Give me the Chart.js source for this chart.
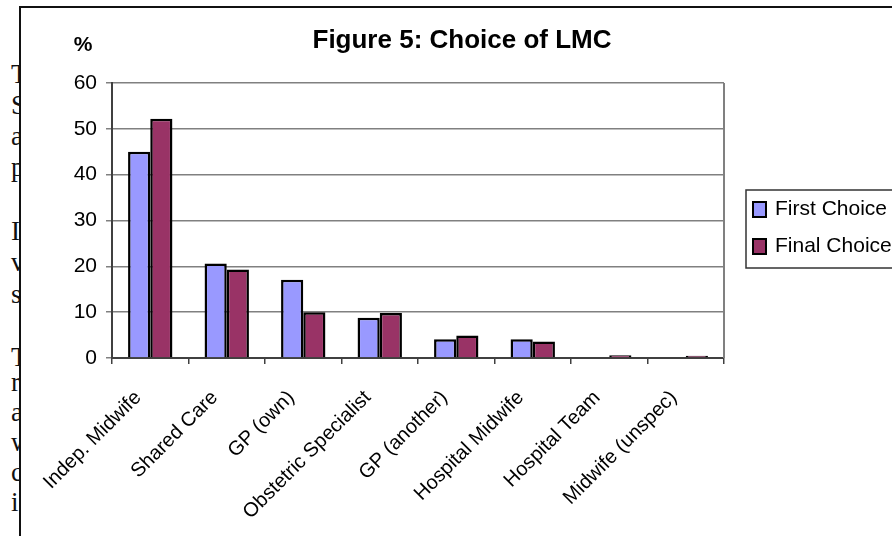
<!DOCTYPE html>
<html>
<head>
<meta charset="utf-8">
<script src="https://cdn.jsdelivr.net/npm/chart.js@4.4.0/dist/chart.umd.min.js"></script>
<style>
  body { margin: 0; width: 892px; height: 536px; overflow: hidden; background: #fff; position: relative; }
  /* page text behind the chart, cut by the chart box */
  .page { position: absolute; left: 0; top: 0; width: 20px; height: 536px; overflow: hidden;
          font-family: "Liberation Serif", "Times New Roman", serif; font-size: 27px; color: #111; }
  .page span { position: absolute; left: 11px; line-height: 1; }
  .box { position: absolute; left: 19px; top: 6px; width: 900px; height: 560px;
         border-left: 2px solid #111; border-top: 2px solid #111; background: #fff; }
  .box canvas { position: absolute; left: 0; top: 0; }
</style>
</head>
<body>
<div class="page">
  <span style="top:61px">T</span>
  <span style="top:92px">S</span>
  <span style="top:123px">a</span>
  <span style="top:154px">p</span>
  <span style="top:218px">I</span>
  <span style="top:249px">v</span>
  <span style="top:281px">s</span>
  <span style="top:344px">T</span>
  <span style="top:369px">r</span>
  <span style="top:399px">a</span>
  <span style="top:429px">w</span>
  <span style="top:459px">c</span>
  <span style="top:489px">i</span>
</div>
<div class="box">
  <canvas id="myChart" width="890" height="528"></canvas>
</div>
<script>
//---------------------------------- Data --------------------------------------------//
const categories = ["Indep. Midwife", "Shared Care", "GP (own)", "Obstetric Specialist",
  "GP (another)", "Hospital Midwife", "Hospital Team", "Midwife (unspec)"];
const firstChoice = [45, 20.6, 17.1, 8.8, 4.1, 4.1, 0, 0];
const finalChoice = [52.2, 19.3, 10, 9.8, 4.9, 3.6, 0.6, 0.5];
const seriesNames = ["First Choice", "Final Choice"];
const yTicks = [0, 10, 20, 30, 40, 50, 60];
const chartTitle = "Figure 5: Choice of LMC";
const unitLabel = "%";

const font = "'Liberation Sans', Arial, sans-serif";

//------------------- Title, % label, right border and legend box --------------------//
const extras = {
  id: "extras",
  afterDraw(chart) {
    const ctx = chart.ctx;
    const area = chart.chartArea;
    ctx.save();

    // right border of the plot
    ctx.strokeStyle = "#808080";
    ctx.lineWidth = 2;
    ctx.beginPath();
    ctx.moveTo(area.right, area.top);
    ctx.lineTo(area.right, area.bottom);
    ctx.stroke();

    // title and unit
    ctx.fillStyle = "#000";
    ctx.textAlign = "center";
    ctx.textBaseline = "middle";
    ctx.font = "bold 26px " + font;
    ctx.fillText(chartTitle, 441, 33);
    ctx.font = "bold 21px " + font;
    ctx.fillText(unitLabel, 62, 37);

    // legend
    ctx.strokeStyle = "#333";
    ctx.lineWidth = 1.5;
    ctx.strokeRect(725, 182, 175, 78);
    ctx.font = "21px " + font;
    ctx.textAlign = "left";
    chart.data.datasets.forEach((ds, i) => {
      const y = 194 + i * 37;
      ctx.fillStyle = ds.backgroundColor;
      ctx.fillRect(732, y, 13, 15);
      ctx.strokeStyle = "#000";
      ctx.lineWidth = 2;
      ctx.strokeRect(732, y, 13, 15);
      ctx.fillStyle = "#000";
      ctx.fillText(ds.label, 754, y + 7);
    });
    ctx.restore();
  }
};

//--------------------------------- Config -------------------------------------------//
const config = {
  type: "bar",
  data: {
    labels: categories,
    datasets: [
      { label: seriesNames[0], data: firstChoice, backgroundColor: "#9999FF",
        borderColor: "#000", borderWidth: 2.5 },
      { label: seriesNames[1], data: finalChoice, backgroundColor: "#993366",
        borderColor: "#000", borderWidth: 2.5 }
    ]
  },
  options: {
    responsive: false,
    animation: false,
    devicePixelRatio: 1,
    layout: { padding: { left: 0, top: 75, right: 187, bottom: 0 } },
    datasets: { bar: { categoryPercentage: 0.58, barPercentage: 1 } },
    plugins: { legend: { display: false }, title: { display: false }, tooltip: { enabled: false } },
    scales: {
      x: {
        grid: { drawOnChartArea: false, drawTicks: true, tickLength: 6, tickColor: "#404040", lineWidth: 1.5 },
        border: { color: "#404040", width: 2 },
        ticks: { color: "#000", font: { family: font, size: 20 }, minRotation: 45, maxRotation: 45,
                 padding: 22, labelOffset: -12, autoSkip: false },
        afterFit: (s) => { s.height = 178; }
      },
      y: {
        min: 0,
        max: 60,
        afterBuildTicks: (s) => { s.ticks = yTicks.map((v) => ({ value: v })); },
        grid: { color: "#808080", lineWidth: 1.5, tickLength: 6, tickColor: "#808080" },
        border: { color: "#404040", width: 2 },
        ticks: { color: "#000", font: { family: font, size: 21 }, padding: 9 },
        afterFit: (s) => { s.width = 91; }
      }
    }
  },
  plugins: [extras]
};

new Chart(document.getElementById("myChart"), config);
</script>
</body>
</html>
